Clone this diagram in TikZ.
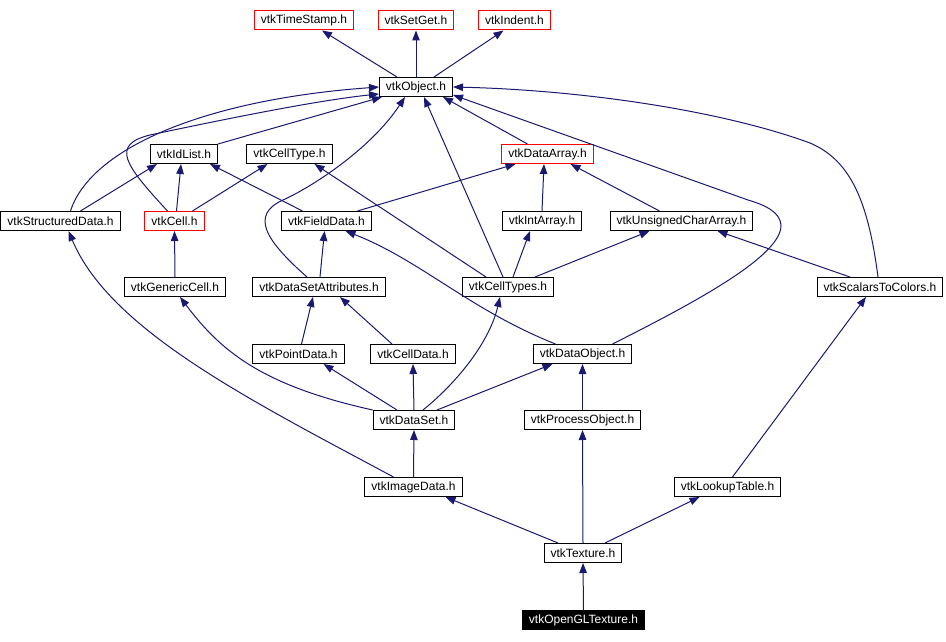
\documentclass[tikz,border=0pt]{standalone}
\usepackage{fontspec}
\setmainfont{Liberation Sans}
\usepackage{xcolor}
\usetikzlibrary{arrows.meta}
\definecolor{edgeblue}{HTML}{191970}

\begin{document}
\begin{tikzpicture}[x=1pt,y=-1pt,
  hdr/.style={draw=black,line width=1pt,minimum height=19pt,inner xsep=6.5pt,inner ysep=0pt,
    font=\fontsize{12}{13}\selectfont},
  redhdr/.style={hdr,draw=red},
  dep/.style={-{Triangle[length=10pt,width=7.5pt]},edgeblue,line width=1pt}]
  \useasboundingbox (0,0) rectangle (946,642);
  % headers
  \node[redhdr] (ts) at (304,20.5) {vtkTimeStamp.h};
  \node[redhdr] (sg) at (416,20.5) {vtkSetGet.h};
  \node[redhdr] (ind) at (514.5,20.5) {vtkIndent.h};
  \node[hdr] (obj) at (416,87) {vtkObject.h};
  \node[hdr] (idl) at (184,154) {vtkIdList.h};
  \node[hdr] (ctype) at (289.5,154) {vtkCellType.h};
  \node[redhdr] (darr) at (547.5,154) {vtkDataArray.h};
  \node[hdr] (sd) at (60.5,221) {vtkStructuredData.h};
  \node[redhdr] (cell) at (174.5,221) {vtkCell.h};
  \node[hdr] (fd) at (326.5,221) {vtkFieldData.h};
  \node[hdr] (ia) at (542,221) {vtkIntArray.h};
  \node[hdr] (uca) at (681.5,221) {vtkUnsignedCharArray.h};
  \node[hdr] (gc) at (175,287) {vtkGenericCell.h};
  \node[hdr] (dsa) at (319,287) {vtkDataSetAttributes.h};
  \node[hdr] (cts) at (508,287) {vtkCellTypes.h};
  \node[hdr] (s2c) at (880,287) {vtkScalarsToColors.h};
  \node[hdr] (pd) at (298.5,354) {vtkPointData.h};
  \node[hdr] (cd) at (413,354) {vtkCellData.h};
  \node[hdr] (dob) at (582.5,354) {vtkDataObject.h};
  \node[hdr] (ds) at (414,420) {vtkDataSet.h};
  \node[hdr] (po) at (582.5,420) {vtkProcessObject.h};
  \node[hdr] (img) at (413.5,487) {vtkImageData.h};
  \node[hdr] (lut) at (727.5,487) {vtkLookupTable.h};
  \node[hdr] (tex) at (583,553) {vtkTexture.h};
  \node[hdr,fill=black,text=white] (ogl) at (583.5,620) {vtkOpenGLTexture.h};
  % includes of vtkObject.h
  \draw[dep] ([xshift=-19pt]obj.north) -- ([xshift=18pt]ts.south);
  \draw[dep] (obj.north) -- (sg.south);
  \draw[dep] ([xshift=18pt]obj.north) -- ([xshift=-11pt]ind.south);
  % into vtkObject.h
  \draw[dep] ([xshift=10pt]sd.north) .. controls (90,150) and (200,100) .. (obj.west);
  \draw[dep] ([xshift=-7pt]cell.north) .. controls (125,165) and (110,145) .. (150,135)
    .. controls (230,118) and (320,100) .. (379,94);
  \draw[dep] (idl.north east) -- ([xshift=-34pt]obj.south);
  \draw[dep] ([xshift=-12pt]dsa.north) .. controls (265,240) and (250,215) .. (283,200)
    .. controls (310,188) and (370,150) .. ([xshift=-11pt]obj.south);
  \draw[dep] ([xshift=-5pt]cts.north) -- ([xshift=8pt]obj.south);
  \draw[dep] ([xshift=-20pt]darr.north) -- ([xshift=27pt]obj.south);
  \draw[dep] ([xshift=30pt]dob.north) .. controls (700,300) and (782,255) .. (781,225)
    .. controls (780,212) and (765,205) .. (748,200) -- (453,95);
  \draw[dep] ([xshift=-2pt]s2c.north) .. controls (868,200) and (850,160) .. (810,143)
    .. controls (720,110) and (580,90) .. (obj.east);
  % third row
  \draw[dep] ([xshift=20pt]sd.north) -- ([xshift=-27pt]idl.south);
  \draw[dep] ([xshift=2pt]cell.north) -- ([xshift=-3pt]idl.south);
  \draw[dep] ([xshift=-24pt]fd.north) -- ([xshift=26pt]idl.south);
  \draw[dep] ([xshift=18pt]cell.north) -- ([xshift=-22pt]ctype.south);
  \draw[dep] ([xshift=-22pt]cts.north) -- ([xshift=25pt]ctype.south);
  \draw[dep] ([xshift=31pt]fd.north) -- ([xshift=-32pt]darr.south);
  \draw[dep] (ia.north) -- ([xshift=-3.5pt]darr.south);
  \draw[dep] ([xshift=-22pt]uca.north) -- ([xshift=23pt]darr.south);
  % fourth row
  \draw[dep] ([xshift=1pt]dsa.north) -- ([xshift=-2pt]fd.south);
  \draw[dep] ([xshift=-27pt]dob.north) .. controls (470,310) and (420,260) .. ([xshift=19pt]fd.south);
  \draw[dep] ([xshift=5pt]cts.north) -- ([xshift=-12pt]ia.south);
  \draw[dep] ([xshift=27pt]cts.north) -- ([xshift=-32pt]uca.south);
  \draw[dep] ([xshift=-30pt]s2c.north) -- ([xshift=36pt]uca.south);
  \draw[dep] (gc.north) -- (cell.south);
  \draw[dep] ([xshift=-20pt]img.north) .. controls (250,400) and (110,330) .. ([xshift=8pt]sd.south);
  % fifth row and below
  \draw[dep] (ds.north west) .. controls (260,385) and (220,350) .. ([xshift=5pt]gc.south);
  \draw[dep] ([xshift=3pt]pd.north) -- ([xshift=-6pt]dsa.south);
  \draw[dep] ([xshift=-21pt]cd.north) -- ([xshift=21pt]dsa.south);
  \draw[dep] ([xshift=-17pt]ds.north) -- ([xshift=25pt]pd.south);
  \draw[dep] (ds.north) -- (cd.south);
  \draw[dep] ([xshift=9pt]ds.north) .. controls (460,380) and (490,340) .. ([xshift=-8pt]cts.south);
  \draw[dep] ([xshift=23pt]ds.north) -- ([xshift=-30pt]dob.south);
  \draw[dep] (po.north) -- (dob.south);
  \draw[dep] (img.north) -- (ds.south);
  \draw[dep] ([xshift=5pt]lut.north) -- ([xshift=-14pt]s2c.south);
  \draw[dep] ([xshift=-25pt]tex.north) -- ([xshift=32pt]img.south);
  \draw[dep] (tex.north) -- (po.south);
  \draw[dep] ([xshift=22pt]tex.north) -- ([xshift=-28pt]lut.south);
  \draw[dep] (ogl.north) -- (tex.south);
\end{tikzpicture}
\end{document}
